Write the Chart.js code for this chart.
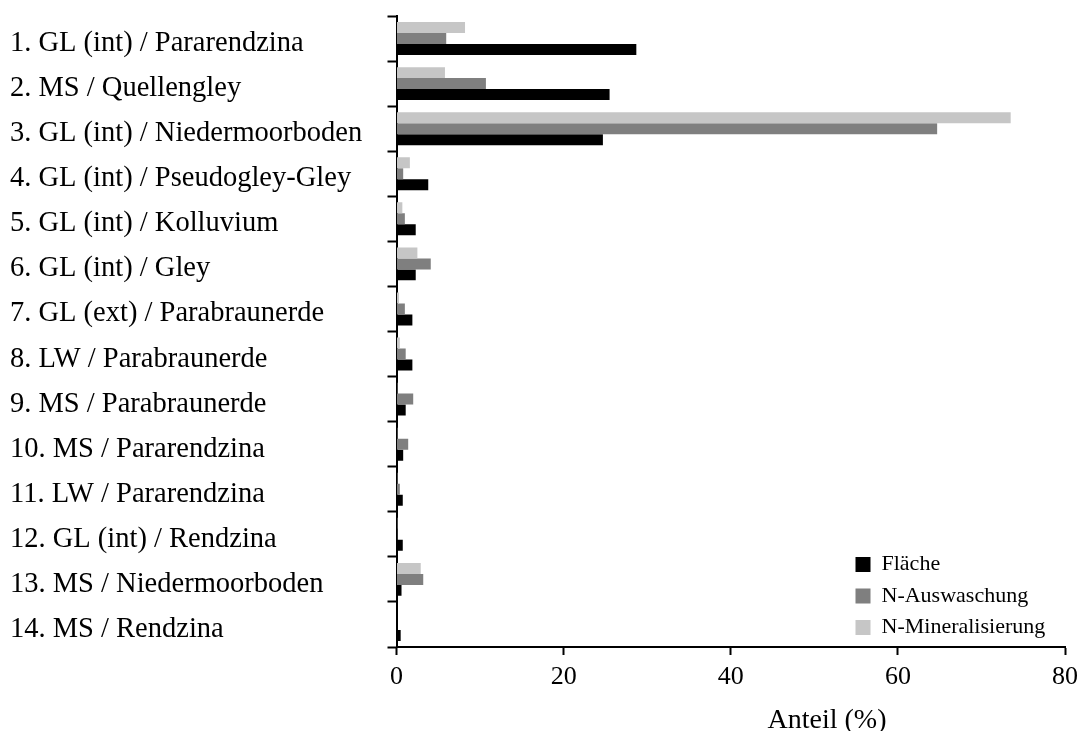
<!DOCTYPE html>
<html lang="de">
<head>
<meta charset="utf-8">
<title>Anteil nach Nutzung / Bodentyp</title>
<script src="https://cdn.jsdelivr.net/npm/chart.js@4/dist/chart.umd.min.js"></script>
<style>
  html, body { margin: 0; padding: 0; background: #fff; }
  canvas { display: block; }
</style>
</head>
<body>
<canvas id="myChart" width="1085" height="731"></canvas>
<script>
const categories = [
  "1. GL (int) / Pararendzina",
  "2. MS / Quellengley",
  "3. GL (int) / Niedermoorboden",
  "4. GL (int) / Pseudogley-Gley",
  "5. GL (int) / Kolluvium",
  "6. GL (int) / Gley",
  "7. GL (ext) / Parabraunerde",
  "8. LW / Parabraunerde",
  "9. MS / Parabraunerde",
  "10. MS / Pararendzina",
  "11. LW / Pararendzina",
  "12. GL (int) / Rendzina",
  "13. MS / Niedermoorboden",
  "14. MS / Rendzina",
];

// Anteil in %
const flaeche = [28.7, 25.5, 24.7, 3.8, 2.3, 2.3, 1.9, 1.9, 1.1, 0.8, 0.75, 0.75, 0.6, 0.5];
const nAuswaschung = [5.95, 10.7, 64.7, 0.8, 1.0, 4.1, 1.0, 1.1, 2.0, 1.4, 0.4, 0.1, 3.2, 0];
const nMineralisierung = [8.2, 5.8, 73.5, 1.6, 0.7, 2.5, 0.3, 0.4, 0.1, 0.1, 0.1, 0.1, 2.9, 0];

const xTicks = [0, 20, 40, 60, 80];
const xTitle = "Anteil (%)";

const serif = "'Liberation Serif', 'Times New Roman', serif";

// legend sits in the lower right corner of the plot area
const legendCorner = {
  id: "legendCorner",
  afterLayout(chart) {
    const lg = chart.legend;
    const area = chart.chartArea;
    lg.left = area.right - 219;
    lg.right = lg.left + lg.width;
    lg.top = area.top;
    lg.bottom = area.bottom + 1;
  },
};

// axis title, placed right of the axis centre
const xAxisTitle = {
  id: "xAxisTitle",
  afterDraw(chart) {
    const scale = chart.scales.x;
    const ctx = chart.ctx;
    ctx.save();
    ctx.font = "28px " + serif;
    ctx.fillStyle = "#000";
    ctx.textAlign = "center";
    ctx.textBaseline = "alphabetic";
    ctx.fillText(xTitle, scale.left + scale.width * 0.644, chart.height - 3);
    ctx.restore();
  },
};

new Chart(document.getElementById("myChart"), {
  type: "bar",
  data: {
    labels: categories,
    datasets: [
      { label: "N-Mineralisierung", data: nMineralisierung, backgroundColor: "#c6c6c6" },
      { label: "N-Auswaschung", data: nAuswaschung, backgroundColor: "#7f7f7f" },
      { label: "Fläche", data: flaeche, backgroundColor: "#000000" },
    ],
  },
  options: {
    indexAxis: "y",
    responsive: false,
    animation: false,
    datasets: {
      bar: { categoryPercentage: 0.73, barPercentage: 1.0, borderWidth: 0 },
    },
    layout: { padding: { left: 10, top: 16, right: 19, bottom: 0 } },
    plugins: {
      tooltip: { enabled: false },
      title: { display: false },
      legend: {
        position: "chartArea",
        align: "end",
        reverse: true,
        labels: {
          color: "#000",
          font: { family: serif, size: 22 },
          boxWidth: 15,
          boxHeight: 15,
          padding: 9.5,
        },
      },
    },
    scales: {
      y: {
        afterFit(scale) {
          scale.width = 386.5;
          // labels stay inside their bands, no extra room above/below
          scale.paddingTop = 0;
          scale.paddingBottom = 0;
        },
        grid: {
          offset: true,
          drawOnChartArea: false,
          tickLength: 9,
          tickWidth: 2,
          tickColor: "#000",
        },
        border: { color: "#000", width: 2 },
        ticks: {
          crossAlign: "far",
          autoSkip: false,
          labelOffset: 5,
          color: "#000",
          font: { family: serif, size: 28.5 },
        },
      },
      x: {
        min: xTicks[0],
        max: xTicks[xTicks.length - 1],
        afterFit(scale) { scale.height = 84; },
        afterBuildTicks(scale) { scale.ticks = xTicks.map((v) => ({ value: v })); },
        grid: {
          drawOnChartArea: false,
          tickLength: 8,
          tickWidth: 2,
          tickColor: "#000",
        },
        border: { color: "#000", width: 2 },
        ticks: {
          padding: 7,
          maxRotation: 0,
          color: "#000",
          font: { family: serif, size: 26 },
        },
      },
    },
  },
  plugins: [legendCorner, xAxisTitle],
});
</script>
</body>
</html>
